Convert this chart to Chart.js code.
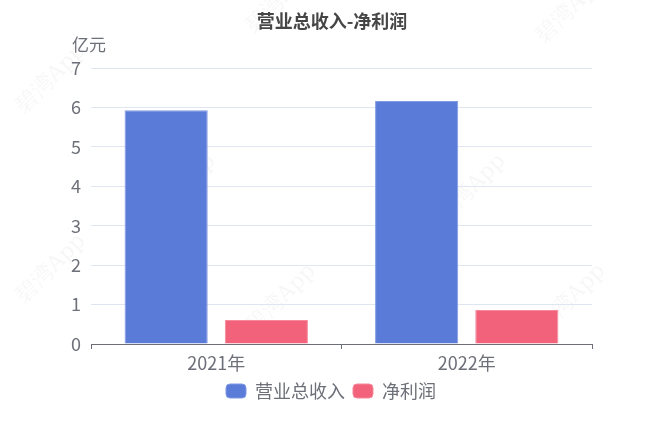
<!DOCTYPE html>
<html>
<head>
<meta charset="utf-8">
<script src="https://cdn.jsdelivr.net/npm/chart.js@4"></script>
<style>
  html, body { margin: 0; padding: 0; background: #fff; }
  #wrap { width: 648px; height: 432px; }
</style>
</head>
<body>
<div id="wrap"><canvas id="chart" width="648" height="432"></canvas></div>
<script>
/* ================== DATA ================== */
const years = ['2021年', '2022年'];
const revenue = [5.93, 6.16];    // 营业总收入, 亿元
const netProfit = [0.61, 0.86];  // 净利润, 亿元
const seriesNames = ['营业总收入', '净利润'];
const yTicks = [0, 1, 2, 3, 4, 5, 6, 7];

const FONT = '"Noto Sans CJK SC", "Noto Sans", sans-serif';
const AXIS_GRAY = '#6E7079';

/* ================== TITLE + UNIT + WATERMARK ================== */
const overlayPlugin = {
  id: 'overlay',
  beforeDraw(chart) {
    const ctx = chart.ctx;
    ctx.save();
    ctx.fillStyle = 'rgba(0,0,0,0.035)';
    ctx.font = '22px "DejaVu Serif", serif';
    const marks = [[20, 110], [250, 30], [540, 40], [150, 220], [440, 220], [20, 300], [250, 330], [540, 330]];
    marks.forEach(([x, y]) => {
      ctx.save();
      ctx.translate(x, y);
      ctx.rotate(-Math.PI / 4);
      ctx.fillText('碧湾App', 0, 0);
      ctx.restore();
    });
    ctx.restore();
  },
  afterDraw(chart) {
    const ctx = chart.ctx;
    ctx.save();
    ctx.fillStyle = '#464646';
    ctx.font = 'bold 18px ' + FONT;
    ctx.textAlign = 'center';
    ctx.textBaseline = 'middle';
    ctx.fillText('营业总收入-净利润', 332, 21);
    ctx.fillStyle = AXIS_GRAY;
    ctx.font = '17px ' + FONT;
    ctx.textAlign = 'left';
    ctx.fillText('亿元', 72, 45);
    ctx.restore();
  }
};

new Chart(document.getElementById('chart'), {
  type: 'bar',
  data: {
    labels: years,
    datasets: [
      {
        label: seriesNames[0],
        data: revenue,
        backgroundColor: '#5B7BD8',
        borderColor: '#8199E2',
        borderWidth: 1,
        borderSkipped: 'bottom'
      },
      {
        label: seriesNames[1],
        data: netProfit,
        backgroundColor: '#F2627B',
        borderColor: '#F6899B',
        borderWidth: 1,
        borderSkipped: 'bottom'
      }
    ]
  },
  options: {
    responsive: false,
    animation: false,
    datasets: { bar: { categoryPercentage: 0.8, barPercentage: 0.83 } },
    layout: { padding: { left: 14, right: 0, top: 68, bottom: 22 } },
    scales: {
      x: {
        grid: { drawOnChartArea: false, drawTicks: true, tickLength: 5, color: AXIS_GRAY },
        border: { display: true, color: AXIS_GRAY },
        ticks: { color: AXIS_GRAY, font: { family: FONT, size: 18 }, padding: 3 },
        afterFit(scale) { scale.height = 30; }
      },
      y: {
        min: 0,
        max: 7,
        afterBuildTicks(scale) { scale.ticks = yTicks.map(v => ({ value: v })); },
        grid: { color: '#E0E6F1', drawTicks: false },
        border: { display: false },
        ticks: { color: AXIS_GRAY, font: { family: FONT, size: 18 }, padding: 10 },
        afterFit(scale) { scale.width = 77; }
      },
      // empty right-hand spacer so the legend centres on the full width
      spacer: {
        type: 'linear',
        position: 'right',
        grid: { display: false },
        border: { display: false },
        ticks: { display: false },
        afterFit(scale) { scale.width = 56; }
      }
    },
    plugins: {
      legend: {
        position: 'bottom',
        labels: {
          color: AXIS_GRAY,
          font: { family: FONT, size: 18 },
          boxWidth: 20,
          boxHeight: 14,
          useBorderRadius: true,
          borderRadius: 4,
          padding: 8
        }
      },
      tooltip: { enabled: false }
    }
  },
  plugins: [overlayPlugin]
});
</script>
</body>
</html>
